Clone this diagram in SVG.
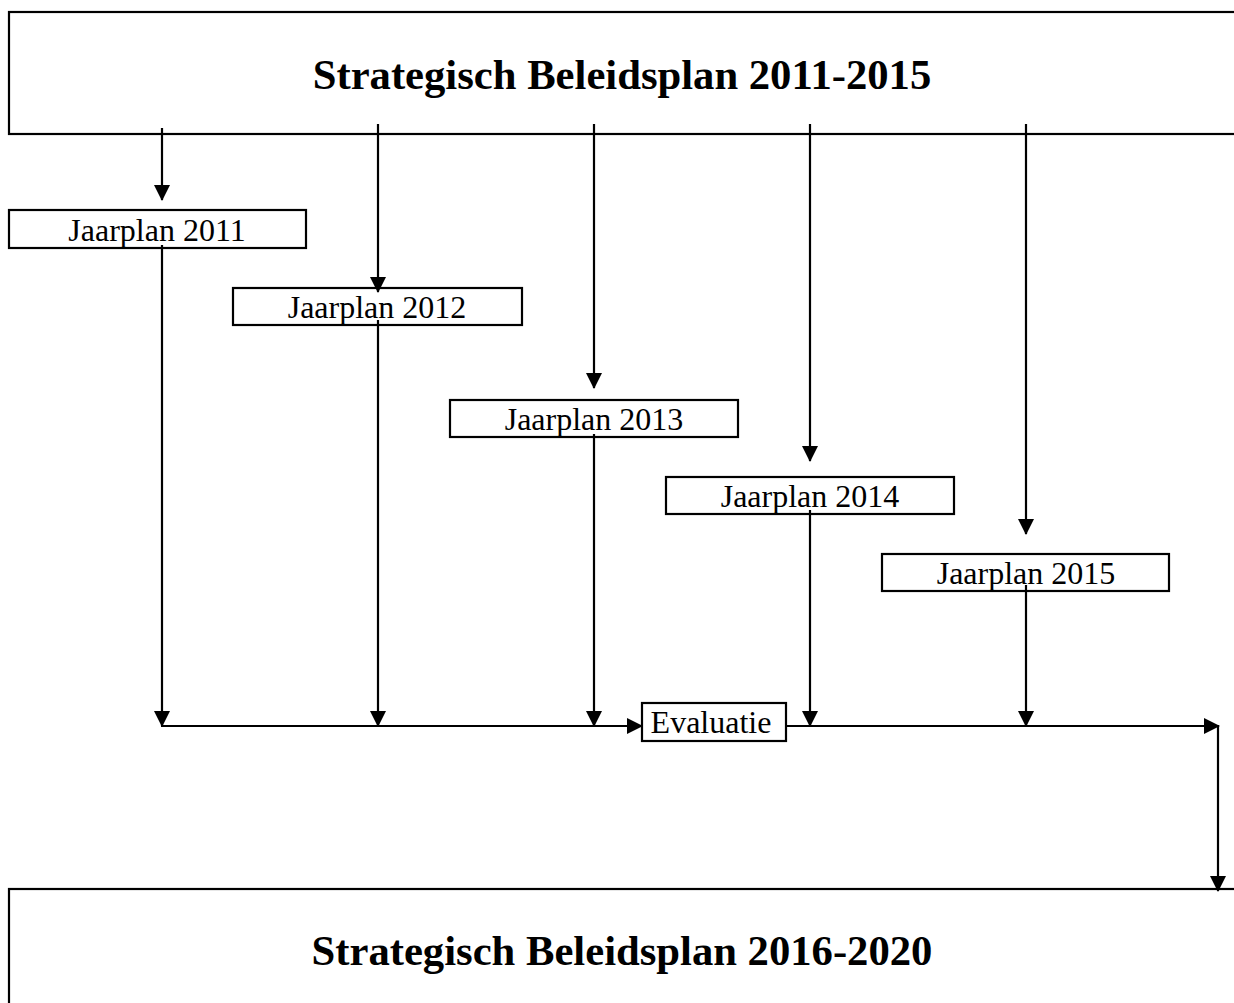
<svg xmlns="http://www.w3.org/2000/svg" width="1234" height="1003" viewBox="0 0 1234 1003">
<style>
.box{fill:#fff;stroke:#000;stroke-width:2.2}
.ln{fill:none;stroke:#000;stroke-width:2.2}
.title{font-family:"Liberation Serif","Times New Roman",serif;font-weight:bold;font-size:42.67px;fill:#000;text-anchor:middle}
.lbl{font-family:"Liberation Serif","Times New Roman",serif;font-size:32px;fill:#000;text-anchor:middle}
</style>
<defs>
<marker id="ah" markerWidth="16" markerHeight="16" viewBox="0 0 16 16" refX="15" refY="8" orient="auto" markerUnits="userSpaceOnUse">
<path d="M0,0 L16,8 L0,16 Z" fill="#000"/>
</marker>
</defs>
<rect width="1234" height="1003" fill="#fff"/>
<g id="plan2011-2015">
<rect class="box" x="9" y="12" width="1240" height="122"/>
<text class="title" x="622" y="89">Strategisch Beleidsplan 2011-2015</text>
</g>
<g id="plan2016-2020">
<rect class="box" x="9" y="889" width="1240" height="200"/>
<text class="title" x="622" y="965">Strategisch Beleidsplan 2016-2020</text>
</g>
<g id="jaarplan2011">
<rect class="box" x="9" y="210" width="297" height="38"/>
<text class="lbl" x="157" y="241">Jaarplan 2011</text>
</g>
<g id="jaarplan2012">
<rect class="box" x="233" y="288" width="289" height="37"/>
<text class="lbl" x="377" y="318">Jaarplan 2012</text>
</g>
<g id="jaarplan2013">
<rect class="box" x="450" y="400" width="288" height="37"/>
<text class="lbl" x="594" y="430">Jaarplan 2013</text>
</g>
<g id="jaarplan2014">
<rect class="box" x="666" y="477" width="288" height="37"/>
<text class="lbl" x="810" y="507">Jaarplan 2014</text>
</g>
<g id="jaarplan2015">
<rect class="box" x="882" y="554" width="287" height="37"/>
<text class="lbl" x="1026" y="584">Jaarplan 2015</text>
</g>
<g id="evaluatie">
<rect class="box" x="642" y="703" width="144" height="38"/>
<text class="lbl" x="711" y="733">Evaluatie</text>
</g>
<g id="connectors">
<line class="ln" x1="162" y1="128" x2="162" y2="200" marker-end="url(#ah)"/>
<line class="ln" x1="378" y1="124" x2="378" y2="292" marker-end="url(#ah)"/>
<line class="ln" x1="594" y1="124" x2="594" y2="388" marker-end="url(#ah)"/>
<line class="ln" x1="810" y1="124" x2="810" y2="461" marker-end="url(#ah)"/>
<line class="ln" x1="1026" y1="124" x2="1026" y2="534" marker-end="url(#ah)"/>
<line class="ln" x1="162" y1="245" x2="162" y2="726" marker-end="url(#ah)"/>
<line class="ln" x1="378" y1="320" x2="378" y2="726" marker-end="url(#ah)"/>
<line class="ln" x1="594" y1="434" x2="594" y2="726" marker-end="url(#ah)"/>
<line class="ln" x1="810" y1="510" x2="810" y2="726" marker-end="url(#ah)"/>
<line class="ln" x1="1026" y1="585" x2="1026" y2="726" marker-end="url(#ah)"/>
<line class="ln" x1="161" y1="726" x2="642" y2="726" marker-end="url(#ah)"/>
<line class="ln" x1="786" y1="726" x2="1219" y2="726" marker-end="url(#ah)"/>
<line class="ln" x1="1218" y1="725" x2="1218" y2="891" marker-end="url(#ah)"/>
</g>
</svg>
